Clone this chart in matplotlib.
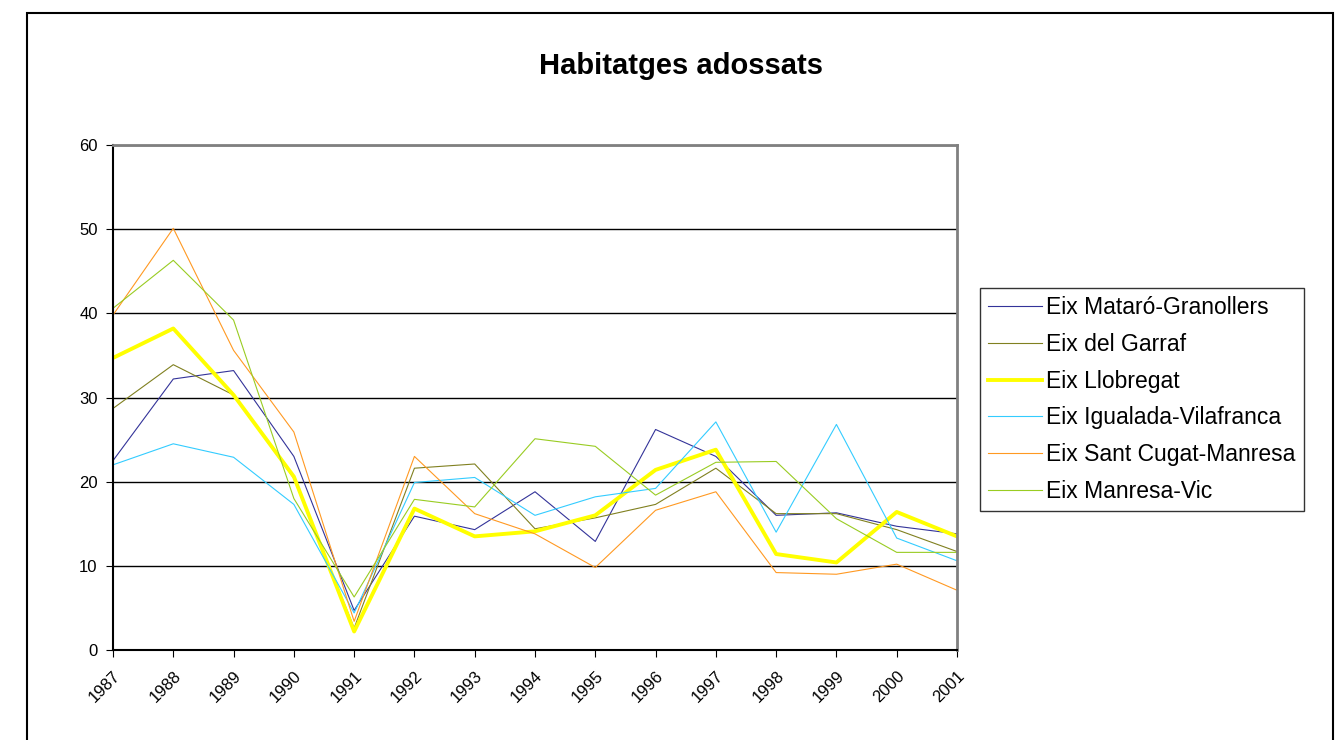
import matplotlib
matplotlib.use("Agg")
import matplotlib.pyplot as plt
from matplotlib.patches import Rectangle

plt.rcParams['font.family'] = ['Liberation Sans', 'DejaVu Sans']

# data
years = [str(y) for y in range(1987, 2002)]
series_names = ["Eix Mataró-Granollers", "Eix del Garraf", "Eix Llobregat",
                "Eix Igualada-Vilafranca", "Eix Sant Cugat-Manresa", "Eix Manresa-Vic"]
mataro = [22.5, 32.2, 33.2, 23.0, 4.7, 15.9, 14.3, 18.8, 12.9, 26.2, 23.0, 16.0, 16.3, 14.7, 13.8]
garraf = [28.7, 33.9, 30.3, 20.4, 2.6, 21.6, 22.1, 14.4, 15.7, 17.3, 21.6, 16.2, 16.2, 14.3, 11.7]
llobregat = [34.7, 38.2, 30.3, 20.6, 2.2, 16.8, 13.5, 14.1, 16.0, 21.4, 23.8, 11.4, 10.4, 16.4, 13.5]
igualada = [22.0, 24.5, 22.9, 17.3, 4.4, 19.9, 20.5, 16.0, 18.2, 19.2, 27.1, 14.0, 26.8, 13.3, 10.6]
santcugat = [39.8, 50.1, 35.6, 25.9, 3.4, 23.0, 16.2, 13.8, 9.8, 16.6, 18.8, 9.2, 9.0, 10.2, 7.1]
manresa_vic = [40.6, 46.3, 39.2, 18.0, 6.3, 17.9, 17.0, 25.1, 24.2, 18.4, 22.3, 22.4, 15.6, 11.6, 11.6]

series = [mataro, garraf, llobregat, igualada, santcugat, manresa_vic]
colors = ['#333399', '#808020', '#ffff00', '#33ccff', '#ff9922', '#99cc22']
widths = [0.8, 0.8, 2.8, 0.8, 0.8, 0.8]

fig = plt.figure(figsize=(13.44, 7.40), dpi=100)
W, H = 1344, 740

# outer chart frame
fig.patches.append(Rectangle((27 / W, -0.05), (1333 - 27) / W, (740 - 13) / H + 0.05,
                             transform=fig.transFigure, fill=False,
                             edgecolor='black', linewidth=1.5))

ax = fig.add_axes([113 / W, 1 - 650 / H, (957 - 113) / W, (650 - 145) / H])
x = list(range(len(years)))
lines = []
for vals, c, lw, name in zip(series, colors, widths, series_names):
    ln, = ax.plot(x, vals, color=c, linewidth=lw, label=name)
    lines.append(ln)

ax.set_xlim(0, len(years) - 1)
ax.set_ylim(0, 60)
ax.set_yticks(range(0, 61, 10))
ax.set_xticks(x)
ax.set_xticklabels(years, rotation=45, ha='right', rotation_mode='anchor', fontsize=12)
ax.tick_params(axis='y', labelsize=12, length=5, direction='out', pad=6)
ax.tick_params(axis='x', length=5, direction='out', pad=8)
ax.grid(axis='y', color='black', linewidth=1)
ax.set_axisbelow(True)
for s in ['top', 'right']:
    ax.spines[s].set_color('#808080')
    ax.spines[s].set_linewidth(2)
for s in ['left', 'bottom']:
    ax.spines[s].set_color('black')
    ax.spines[s].set_linewidth(1.5)

fig.text(681 / W, 1 - 66 / H, "Habitatges adossats", ha='center', va='center',
         fontsize=21, fontweight='bold')

leg = fig.legend(handles=lines, loc='upper left',
                 bbox_to_anchor=(980 / W, 1 - 288 / H), fontsize=16.5,
                 frameon=True, fancybox=False, edgecolor='black',
                 handlelength=2.35, handletextpad=0.2, labelspacing=0.6,
                 borderpad=0.35, borderaxespad=0)
leg.get_frame().set_linewidth(1)

fig.savefig("out.png", dpi=100)
